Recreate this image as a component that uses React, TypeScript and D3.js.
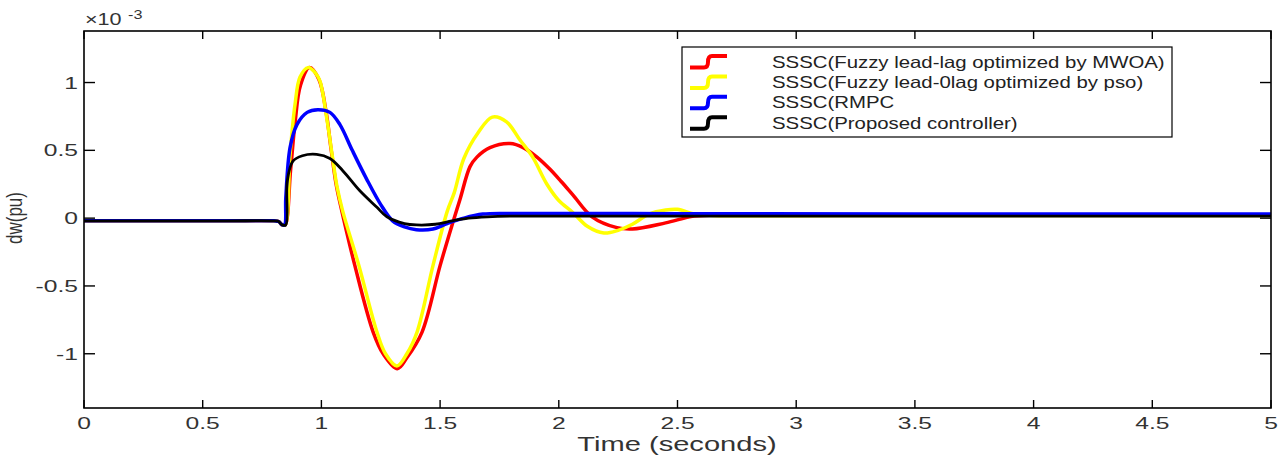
import React from 'react';
import * as d3 from 'd3';

// time (s) / dw (x1e-3 pu)
const mwoa: [number, number][] = [
  [0, -0.02], [0.3, -0.02], [0.6, -0.02], [0.8, -0.02], [0.82, -0.025], [0.835, -0.05],
  [0.847, -0.05], [0.87, 0.35], [0.89, 0.72], [0.912, 0.98], [0.95, 1.11], [0.99, 1.02],
  [1.02, 0.78], [1.04, 0.52], [1.062, 0.25], [1.08, 0.1], [1.141, -0.35], [1.218, -0.84],
  [1.26, -1.0], [1.32, -1.11], [1.36, -1.03], [1.424, -0.84], [1.5, -0.35], [1.554, -0.03],
  [1.584, 0.14], [1.626, 0.38], [1.655, 0.45], [1.71, 0.52], [1.795, 0.55], [1.85, 0.52],
  [1.908, 0.45], [1.963, 0.36], [2.01, 0.27], [2.06, 0.17], [2.14, 0.01], [2.245, -0.07],
  [2.31, -0.08], [2.45, -0.035], [2.57, 0.015], [2.7, 0.025], [3.2, 0.025], [4, 0.025],
  [5, 0.025],
];

const pso: [number, number][] = [
  [0, -0.02], [0.3, -0.02], [0.6, -0.02], [0.8, -0.02], [0.82, -0.025], [0.835, -0.05],
  [0.847, -0.05], [0.868, 0.47], [0.889, 0.84], [0.91, 1.04], [0.944, 1.11], [0.975, 1.07],
  [0.994, 1.01], [1.024, 0.72], [1.045, 0.47], [1.066, 0.23], [1.09, 0.05], [1.158, -0.35],
  [1.234, -0.84], [1.27, -1.0], [1.318, -1.09], [1.36, -1.0], [1.403, -0.84], [1.47, -0.35],
  [1.53, 0.05], [1.56, 0.19], [1.6, 0.44], [1.66, 0.63], [1.72, 0.745], [1.78, 0.71],
  [1.835, 0.58], [1.89, 0.45], [1.95, 0.25], [2.0, 0.13], [2.06, 0.04], [2.12, -0.06],
  [2.19, -0.11], [2.25, -0.09], [2.31, -0.045], [2.38, 0.03], [2.45, 0.06], [2.5, 0.065],
  [2.57, 0.03], [2.65, 0.02], [3.2, 0.02], [4, 0.02], [5, 0.02],
];

const rmpc: [number, number][] = [
  [0, -0.02], [0.3, -0.02], [0.6, -0.02], [0.8, -0.02], [0.82, -0.025], [0.835, -0.05],
  [0.845, -0.05], [0.85, 0.15], [0.868, 0.52], [0.897, 0.69], [0.94, 0.78], [0.985, 0.8],
  [1.036, 0.78], [1.078, 0.69], [1.13, 0.5], [1.19, 0.29], [1.25, 0.1], [1.3, -0.02],
  [1.35, -0.065], [1.4, -0.085], [1.47, -0.08], [1.53, -0.04], [1.6, 0.0], [1.68, 0.03],
  [1.8, 0.035], [2.5, 0.033], [3.5, 0.03], [5, 0.03],
];

const proposed: [number, number][] = [
  [0, -0.02], [0.3, -0.02], [0.6, -0.02], [0.8, -0.02], [0.82, -0.025], [0.835, -0.05],
  [0.85, -0.05], [0.856, 0.27], [0.88, 0.42], [0.92, 0.46], [0.98, 0.47], [1.036, 0.44],
  [1.09, 0.35], [1.163, 0.2], [1.234, 0.08], [1.276, 0.01], [1.35, -0.04], [1.4, -0.05],
  [1.48, -0.045], [1.55, -0.02], [1.62, 0.0], [1.7, 0.01], [1.8, 0.015], [2.5, 0.015],
  [3.5, 0.015], [5, 0.015],
];

const seriesNames = [
  'SSSC(Fuzzy lead-lag optimized by MWOA)',
  'SSSC(Fuzzy lead-0lag optimized by pso)',
  'SSSC(RMPC',
  'SSSC(Proposed controller)',
];
const seriesData = [mwoa, pso, rmpc, proposed];
const seriesColors = ['#ff0000', '#ffff00', '#0000ff', '#000000'];
const seriesWidths = [3.5, 3.5, 3.5, 2.8];

const xTicks = [0, 0.5, 1, 1.5, 2, 2.5, 3, 3.5, 4, 4.5, 5];
const yTicks = [-1, -0.5, 0, 0.5, 1];

const W = 1287;
const H = 461;
const plot = { left: 84, right: 1271, top: 31, bottom: 408 };
const txtColor = '#333';
const font = '"Liberation Sans", Arial, sans-serif';

function SText({ x, y, sx = 1.4, size = 16, anchor = 'middle', children, fill = txtColor }: any) {
  return (
    <text
      transform={`translate(${x},${y}) scale(${sx},1)`}
      fontSize={size}
      textAnchor={anchor}
      fill={fill}
      fontFamily={font}
    >
      {children}
    </text>
  );
}

export default function App() {
  const x = d3.scaleLinear().domain([0, 5]).range([plot.left, plot.right]);
  const y = d3.scaleLinear().domain([-1.4, 1.38]).range([plot.bottom, plot.top]);
  const line = d3
    .line<[number, number]>()
    .x(d => x(d[0]))
    .y(d => y(d[1]))
    .curve(d3.curveCatmullRom.alpha(0.5));

  const legend = { x: 682, y: 47, w: 490, h: 90 };
  const rowY = (i: number) => 62 + i * 20.4;

  return (
    <svg width={W} height={H} style={{ position: 'absolute', left: 0, top: 0, background: '#fff' }}>
      <rect x={0} y={0} width={W} height={H} fill="#fff" />
      <defs>
        <clipPath id="plotClip">
          <rect x={plot.left} y={plot.top} width={plot.right - plot.left} height={plot.bottom - plot.top} />
        </clipPath>
      </defs>

      {/* curves */}
      <g clipPath="url(#plotClip)">
        {seriesData.map((d, i) => (
          <path
            key={i}
            d={line(d) || ''}
            fill="none"
            stroke={seriesColors[i]}
            strokeWidth={seriesWidths[i]}
            strokeLinejoin="round"
          />
        ))}
      </g>

      {/* axes box */}
      <rect
        x={plot.left}
        y={plot.top}
        width={plot.right - plot.left}
        height={plot.bottom - plot.top}
        fill="none"
        stroke="#000"
        strokeWidth={1.6}
      />

      {/* x ticks */}
      {xTicks.map(t => (
        <g key={'x' + t}>
          <line x1={x(t)} x2={x(t)} y1={plot.bottom} y2={plot.bottom - 8} stroke="#000" strokeWidth={1.4} />
          <line x1={x(t)} x2={x(t)} y1={plot.top} y2={plot.top + 8} stroke="#000" strokeWidth={1.4} />
          <SText x={x(t)} y={429} size={17} sx={1.45}>{String(t)}</SText>
        </g>
      ))}

      {/* y ticks */}
      {yTicks.map(t => (
        <g key={'y' + t}>
          <line x1={plot.left} x2={plot.left + 11} y1={y(t)} y2={y(t)} stroke="#000" strokeWidth={1.4} />
          <line x1={plot.right} x2={plot.right - 11} y1={y(t)} y2={y(t)} stroke="#000" strokeWidth={1.4} />
          <SText x={78} y={y(t) + 6} size={17} sx={1.45} anchor="end">{String(t)}</SText>
        </g>
      ))}

      {/* exponent */}
      <SText x={85} y={25} size={16} sx={1.35} anchor="start">
        {'\u00d710'}
      </SText>
      <SText x={128} y={19} size={12} sx={1.35} anchor="start">-3</SText>

      {/* axis labels */}
      <SText x={677} y={451} size={20.5} sx={1.42}>Time (seconds)</SText>
      <text
        transform="translate(22,218) rotate(-90) scale(1,1.3)"
        fontSize={17}
        textAnchor="middle"
        fill={txtColor}
        fontFamily={font}
      >
        dw(pu)
      </text>

      {/* legend */}
      <rect x={legend.x} y={legend.y} width={legend.w} height={legend.h} fill="#fff" stroke="#000" strokeWidth={1.2} />
      {seriesNames.map((name, i) => {
        const cy = rowY(i);
        return (
          <g key={name}>
            <path
              d={`M690,${cy + 5.5} H704 Q708,${cy + 5.5} 708,${cy} Q708,${cy - 6} 712,${cy - 6} H727`}
              fill="none"
              stroke={seriesColors[i]}
              strokeWidth={4}
            />
            <SText x={772} y={cy + 5.5} size={16.3} sx={1.25} anchor="start" fill="#222">
              {name}
            </SText>
          </g>
        );
      })}
    </svg>
  );
}
